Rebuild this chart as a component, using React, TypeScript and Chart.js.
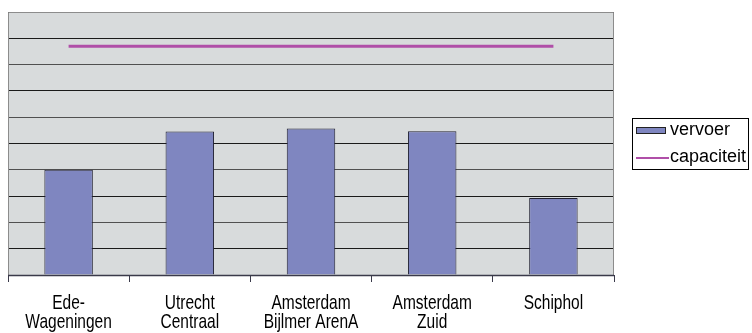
import React, { useEffect, useRef } from "react";
import { Chart, registerables } from "chart.js";

Chart.register(...registerables);

const categories: string[][] = [
  ["Ede-", "Wageningen"],
  ["Utrecht", "Centraal"],
  ["Amsterdam", "Bijlmer ArenA"],
  ["Amsterdam", "Zuid"],
  ["Schiphol"],
];
const vervoer: number[] = [4.0, 5.46, 5.57, 5.47, 2.93];
const capaciteit: number[] = [8.7, 8.7, 8.7, 8.7, 8.7];
const seriesNames: string[] = ["vervoer", "capaciteit"];

const W = 752;
const H = 333;
const PLOT_LEFT = 8;
const PLOT_TOP = 12;
const PLOT_RIGHT = 614;
const PLOT_BOTTOM = 275;

const BG = "#D8DBDC";
const BAR = "#7F86C0";
const LINE = "#B04FA8";
const FONT = "'Liberation Sans', Arial, sans-serif";

const plotBgPlugin = {
  id: "plotBg",
  beforeDraw(chart: any) {
    const { ctx, chartArea } = chart;
    ctx.save();
    ctx.fillStyle = BG;
    ctx.fillRect(chartArea.left, chartArea.top, chartArea.right - chartArea.left, chartArea.bottom - chartArea.top);
    ctx.restore();
  },
  afterDraw(chart: any) {
    const { ctx, chartArea } = chart;
    ctx.save();
    ctx.strokeStyle = "#8C8C8C";
    ctx.lineWidth = 1;
    ctx.beginPath();
    ctx.moveTo(chartArea.left + 0.5, chartArea.bottom);
    ctx.lineTo(chartArea.left + 0.5, chartArea.top + 0.5);
    ctx.lineTo(chartArea.right - 0.5, chartArea.top + 0.5);
    ctx.lineTo(chartArea.right - 0.5, chartArea.bottom);
    ctx.stroke();
    // x axis line
    ctx.strokeStyle = "#3A3A4A";
    ctx.lineWidth = 1.5;
    ctx.beginPath();
    ctx.moveTo(chartArea.left, chartArea.bottom + 0.5);
    ctx.lineTo(chartArea.right, chartArea.bottom + 0.5);
    ctx.stroke();

    // category labels (slightly tall, narrow text as in the reference)
    const xs = chart.scales.x;
    ctx.fillStyle = "#000";
    ctx.font = `15.5px ${FONT}`;
    ctx.textAlign = "center";
    ctx.textBaseline = "alphabetic";
    (chart.data.labels as string[][]).forEach((lines, i) => {
      const x = xs.getPixelForValue(i);
      lines.forEach((t, j) => {
        ctx.save();
        ctx.translate(x, 309 + j * 19);
        ctx.scale(1, 1.25);
        ctx.fillText(t, 0, 0);
        ctx.restore();
      });
    });

    // legend
    const barDs = chart.data.datasets.find((d: any) => d.type === "bar");
    const lineDs = chart.data.datasets.find((d: any) => d.type === "line");
    const lx = 632, ly = 118, lw = 117, lh = 52;
    ctx.fillStyle = "#FFFFFF";
    ctx.fillRect(lx, ly, lw, lh);
    ctx.strokeStyle = "#000000";
    ctx.lineWidth = 1;
    ctx.strokeRect(lx + 0.5, ly + 0.5, lw - 1, lh - 1);
    ctx.font = `18px ${FONT}`;
    ctx.textAlign = "left";
    ctx.textBaseline = "middle";
    ctx.fillStyle = BAR;
    ctx.fillRect(636, 127, 30, 7);
    ctx.strokeStyle = "#222";
    ctx.strokeRect(636.5, 127.5, 29, 6);
    ctx.fillStyle = "#000";
    ctx.fillText(barDs.label, 670, 130);
    ctx.strokeStyle = LINE;
    ctx.lineWidth = 2;
    ctx.beginPath();
    ctx.moveTo(636, 158);
    ctx.lineTo(669, 158);
    ctx.stroke();
    ctx.fillText(lineDs.label, 670, 157);
    ctx.restore();
  },
};

export default function App() {
  const ref = useRef<HTMLCanvasElement>(null);
  useEffect(() => {
    document.body.style.margin = "0";
    const canvas = ref.current!;
    const chart = new Chart(canvas, {
      type: "bar",
      data: {
        labels: categories,
        datasets: [
          {
            type: "line",
            label: seriesNames[1],
            data: capaciteit,
            borderColor: LINE,
            backgroundColor: LINE,
            borderWidth: 3,
            pointRadius: 0,
            order: 0,
          } as any,
          {
            type: "bar",
            label: seriesNames[0],
            data: vervoer,
            backgroundColor: BAR,
            borderColor: "#222233",
            borderWidth: 1,
            barPercentage: 0.4,
            categoryPercentage: 1,
            order: 1,
          },
        ],
      },
      options: {
        responsive: false,
        animation: false,
        events: [],
        layout: { padding: { left: PLOT_LEFT, top: PLOT_TOP, right: W - PLOT_RIGHT, bottom: 0 } },
        plugins: {
          legend: { display: false },
          tooltip: { enabled: false },
        },
        scales: {
          x: {
            offset: true,
            grid: {
              offset: true,
              drawOnChartArea: false,
              drawTicks: true,
              tickLength: 7,
              color: "#3A3A4A",
            },
            border: { display: false },
            ticks: {
              color: "rgba(0,0,0,0)",
              font: { family: FONT, size: 15 },
              maxRotation: 0,
              autoSkip: false,
            },
            afterFit(scale: any) {
              scale.height = H - PLOT_BOTTOM;
            },
          },
          y: {
            min: 0,
            max: 10,
            ticks: { display: false, stepSize: 1 },
            grid: {
              color: (c: any) => (c.index % 2 === 1 ? "#1A1A1A" : "#505050"),
              drawTicks: false,
              lineWidth: 1,
            },
            border: { display: false },
            afterFit(scale: any) {
              scale.width = 0;
            },
          },
        },
      },
      plugins: [plotBgPlugin],
    });
    return () => chart.destroy();
  }, []);
  return (
    <div style={{ position: "relative", width: W, height: H, background: "#fff" }}>
      <canvas ref={ref} width={W} height={H} style={{ display: "block" }} />
    </div>
  );
}
